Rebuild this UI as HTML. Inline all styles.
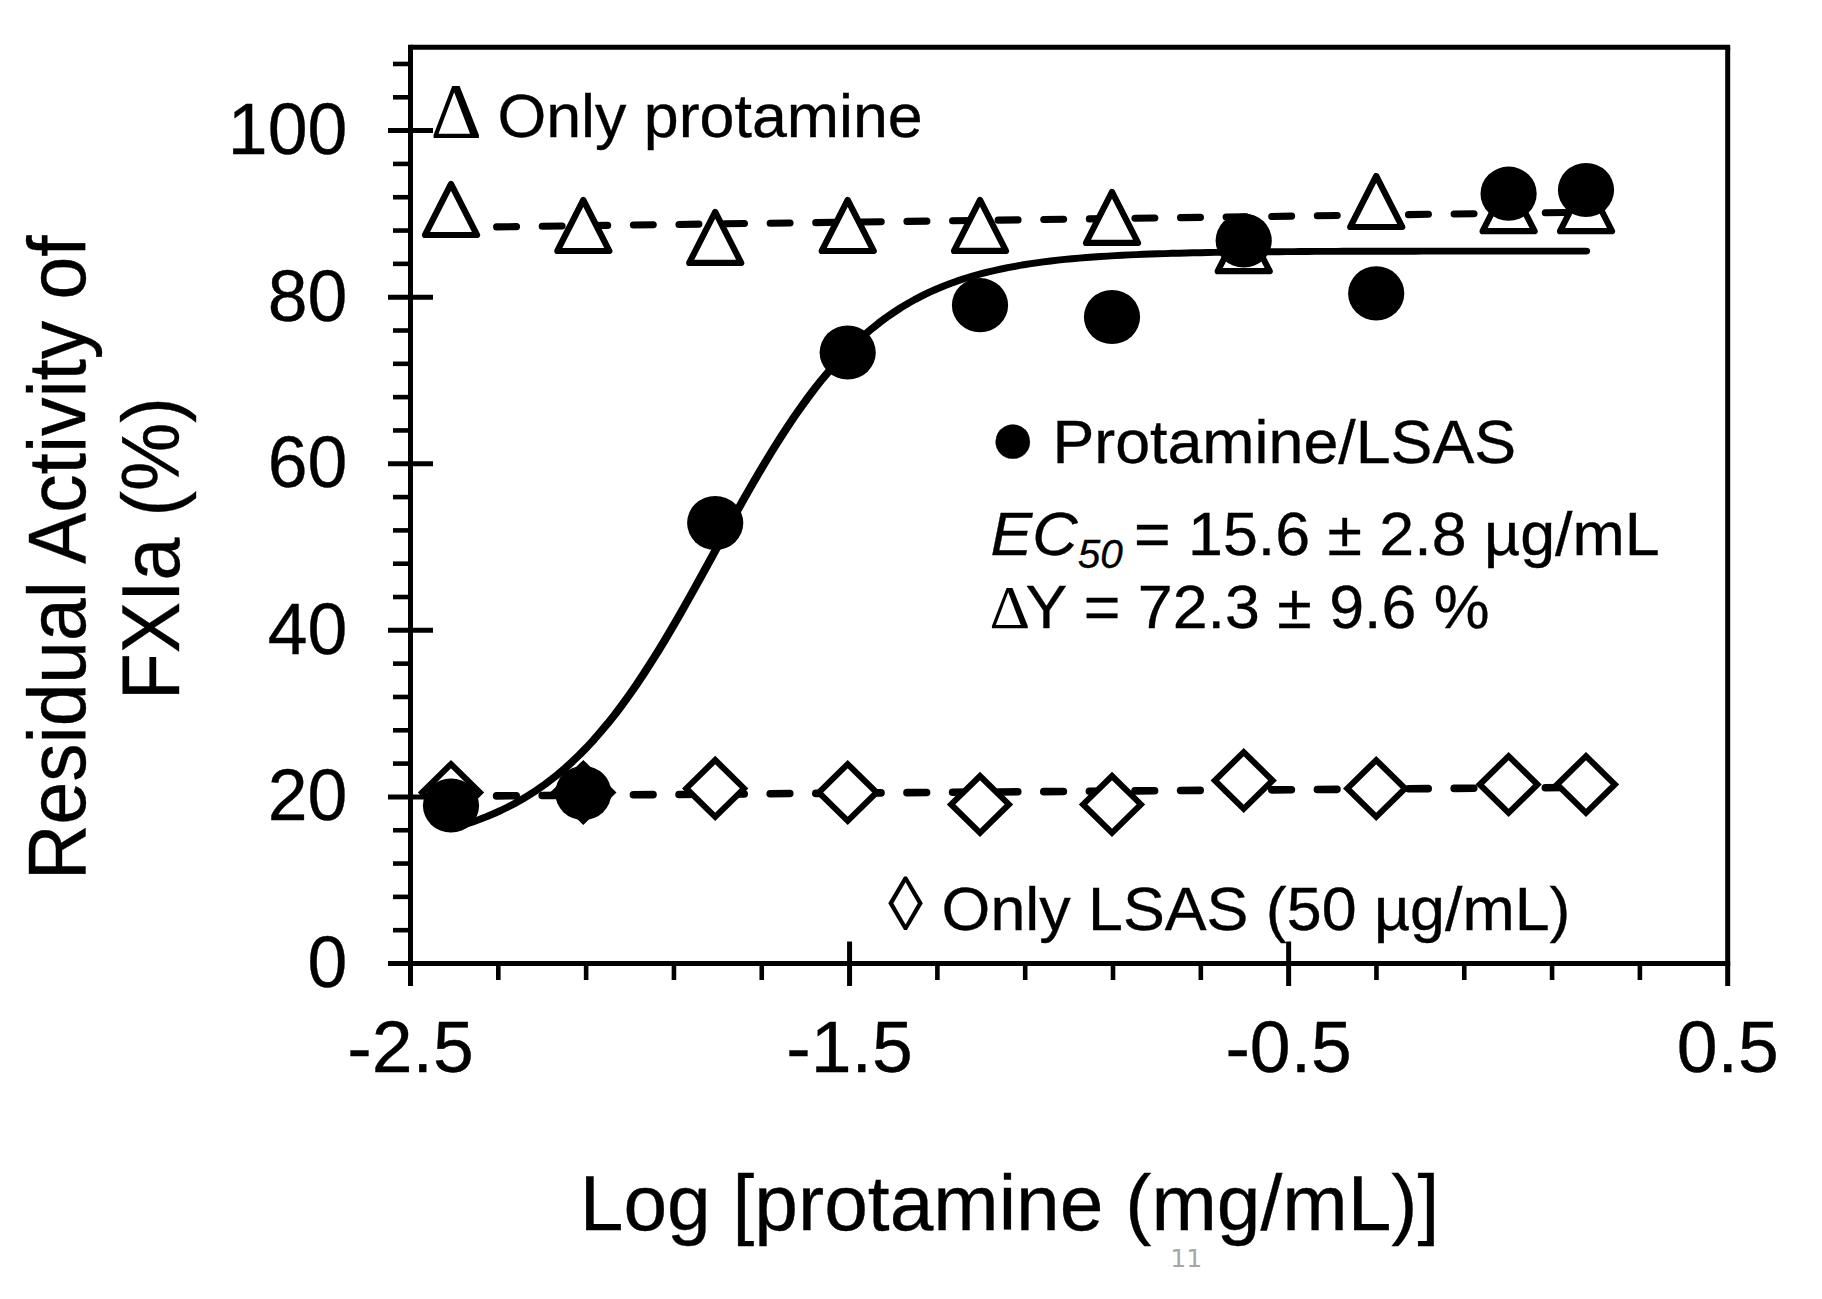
<!DOCTYPE html>
<html lang="en"><head><meta charset="utf-8"><title>Residual Activity of FXIa vs Log [protamine]</title>
<style>html,body{margin:0;padding:0;background:#fff}body{width:1822px;height:1299px;overflow:hidden}svg{display:block}text{font-family:"Liberation Sans",Arial,sans-serif;fill:#000;stroke:#000;stroke-width:.35px}.sym{font-family:"Liberation Serif","DejaVu Serif",serif;stroke-width:0}</style></head><body>
<svg width="1822" height="1299" viewBox="0 0 1822 1299">
<rect width="1822" height="1299" fill="#fff"/>
<g stroke="#000" stroke-width="5" fill="none" stroke-linecap="butt">
<path d="M410.5 44.8 V986"/>
<path d="M388 963.5 H1730.2"/>
<path d="M410.5 47.3 H1730.2"/>
<path d="M1727.7 47.3 V986"/>
<path d="M388 796.92 H433"/>
<path d="M388 630.34 H433"/>
<path d="M388 463.76 H433"/>
<path d="M388 297.18 H433"/>
<path d="M388 130.60 H433"/>
<path d="M849.57 941.5 V986"/>
<path d="M1288.63 941.5 V986"/>
</g>
<g stroke="#000" stroke-width="4.6" fill="none">
<path d="M393 930.18 H410.5"/>
<path d="M393 896.87 H410.5"/>
<path d="M393 863.55 H410.5"/>
<path d="M393 830.24 H410.5"/>
<path d="M393 763.60 H410.5"/>
<path d="M393 730.29 H410.5"/>
<path d="M393 696.97 H410.5"/>
<path d="M393 663.66 H410.5"/>
<path d="M393 597.02 H410.5"/>
<path d="M393 563.71 H410.5"/>
<path d="M393 530.39 H410.5"/>
<path d="M393 497.08 H410.5"/>
<path d="M393 430.44 H410.5"/>
<path d="M393 397.13 H410.5"/>
<path d="M393 363.81 H410.5"/>
<path d="M393 330.50 H410.5"/>
<path d="M393 263.86 H410.5"/>
<path d="M393 230.55 H410.5"/>
<path d="M393 197.23 H410.5"/>
<path d="M393 163.92 H410.5"/>
<path d="M393 97.28 H410.5"/>
<path d="M393 63.97 H410.5"/>
<path d="M498.31 963.5 V980"/>
<path d="M586.13 963.5 V980"/>
<path d="M673.94 963.5 V980"/>
<path d="M761.75 963.5 V980"/>
<path d="M937.38 963.5 V980"/>
<path d="M1025.19 963.5 V980"/>
<path d="M1113.01 963.5 V980"/>
<path d="M1200.82 963.5 V980"/>
<path d="M1376.45 963.5 V980"/>
<path d="M1464.26 963.5 V980"/>
<path d="M1552.07 963.5 V980"/>
<path d="M1639.89 963.5 V980"/>
</g>
<text transform="translate(347.20 987.00) scale(0.98 1)" font-size="73" text-anchor="end">0</text>
<text transform="translate(347.20 820.42) scale(0.98 1)" font-size="73" text-anchor="end">20</text>
<text transform="translate(347.20 653.84) scale(0.98 1)" font-size="73" text-anchor="end">40</text>
<text transform="translate(347.20 487.26) scale(0.98 1)" font-size="73" text-anchor="end">60</text>
<text transform="translate(347.20 320.68) scale(0.98 1)" font-size="73" text-anchor="end">80</text>
<text transform="translate(347.20 154.10) scale(0.98 1)" font-size="73" text-anchor="end">100</text>
<text transform="translate(410.50 1072.30) scale(1.005 1)" font-size="73" text-anchor="middle">-2.5</text>
<text transform="translate(849.57 1072.30) scale(1.005 1)" font-size="73" text-anchor="middle">-1.5</text>
<text transform="translate(1288.63 1072.30) scale(1.005 1)" font-size="73" text-anchor="middle">-0.5</text>
<text transform="translate(1727.70 1072.30) scale(1.005 1)" font-size="73" text-anchor="middle">0.5</text>
<text transform="translate(1009.50 1230.00) scale(1.004 1)" font-size="78.2" text-anchor="middle">Log [protamine (mg/mL)]</text>
<text transform="translate(84.8 557.7) rotate(-90) scale(1 1.055)" font-size="76.8" text-anchor="middle">Residual Activity of</text>
<text transform="translate(178.8 548.6) rotate(-90) scale(1 1.055)" font-size="76.8" text-anchor="middle">FXIa (%)</text>
<g stroke="#000" fill="none" stroke-linecap="round">
<path d="M451 227.5 L1586 212.2" stroke-width="7.1" stroke-dasharray="19.9 25.7"/>
<path d="M451 796.2 L1586 787.4" stroke-width="7.6" stroke-dasharray="19.6 26"/>
</g>
<g stroke="#000" stroke-width="6" fill="#fff" stroke-linejoin="miter">
<path d="M451.0 764.1 L479.9 792.5 L451.0 820.9 L422.1 792.5Z"/>
<path d="M583.3 764.1 L612.2 792.5 L583.3 820.9 L554.4 792.5Z"/>
<path d="M715.2 760.0 L744.1 788.4 L715.2 816.8 L686.3 788.4Z"/>
<path d="M847.7 764.1 L876.6 792.5 L847.7 820.9 L818.8 792.5Z"/>
<path d="M980.0 776.0 L1008.9 804.4 L980.0 832.8 L951.1 804.4Z"/>
<path d="M1112.0 776.0 L1140.9 804.4 L1112.0 832.8 L1083.1 804.4Z"/>
<path d="M1243.7 752.1 L1272.6 780.5 L1243.7 808.9 L1214.8 780.5Z"/>
<path d="M1376.2 760.1 L1405.1 788.5 L1376.2 816.9 L1347.3 788.5Z"/>
<path d="M1508.6 756.1 L1537.5 784.5 L1508.6 812.9 L1479.7 784.5Z"/>
<path d="M1586.0 756.1 L1614.9 784.5 L1586.0 812.9 L1557.1 784.5Z"/>
</g>
<g stroke="#000" stroke-width="6.2" fill="#fff" stroke-linejoin="round">
<path d="M451.0 184.0 L477.0 235.0 L425.0 235.0Z"/>
<path d="M583.3 200.0 L609.3 251.0 L557.3 251.0Z"/>
<path d="M715.2 211.9 L741.2 262.9 L689.2 262.9Z"/>
<path d="M847.7 200.0 L873.7 251.0 L821.7 251.0Z"/>
<path d="M980.0 199.9 L1006.0 250.9 L954.0 250.9Z"/>
<path d="M1112.0 191.9 L1138.0 242.9 L1086.0 242.9Z"/>
<path d="M1243.7 220.2 L1269.7 271.2 L1217.7 271.2Z"/>
<path d="M1376.2 176.0 L1402.2 227.0 L1350.2 227.0Z"/>
<path d="M1508.6 180.2 L1534.6 231.2 L1482.6 231.2Z"/>
<path d="M1586.0 180.2 L1612.0 231.2 L1560.0 231.2Z"/>
</g>
<g transform="scale(1.2 1)"><polyline points="375.83,828.6 381.78,826.6 387.73,824.4 393.68,822.0 399.63,819.4 405.58,816.6 411.53,813.6 417.47,810.4 423.42,806.9 429.37,803.2 435.32,799.1 441.27,794.8 447.22,790.2 453.17,785.2 459.11,779.8 465.06,774.2 471.01,768.1 476.96,761.6 482.91,754.8 488.86,747.5 494.81,739.8 500.75,731.6 506.70,723.1 512.65,714.1 518.60,704.6 524.55,694.8 530.50,684.5 536.45,673.8 542.40,662.7 548.34,651.3 554.29,639.6 560.24,627.5 566.19,615.2 572.14,602.6 578.09,589.9 584.04,577.0 589.98,564.0 595.93,551.0 601.88,537.9 607.83,524.9 613.78,512.1 619.73,499.3 625.68,486.8 631.62,474.5 637.57,462.5 643.52,450.7 649.47,439.3 655.42,428.3 661.37,417.6 667.32,407.4 673.27,397.6 679.21,388.2 685.16,379.2 691.11,370.7 697.06,362.6 703.01,354.9 708.96,347.7 714.91,340.8 720.85,334.4 726.80,328.4 732.75,322.7 738.70,317.4 744.65,312.5 750.60,307.8 756.55,303.5 762.49,299.5 768.44,295.8 774.39,292.3 780.34,289.1 786.29,286.1 792.24,283.4 798.19,280.8 804.14,278.4 810.08,276.3 816.03,274.3 821.98,272.4 827.93,270.7 833.88,269.1 839.83,267.6 845.78,266.3 851.72,265.0 857.67,263.9 863.62,262.9 869.57,261.9 875.52,261.0 881.47,260.2 887.42,259.4 893.36,258.8 899.31,258.1 905.26,257.5 911.21,257.0 917.16,256.5 923.11,256.1 929.06,255.6 935.01,255.3 940.95,254.9 946.90,254.6 952.85,254.3 958.80,254.0 964.75,253.8 970.70,253.6 976.65,253.3 982.59,253.2 988.54,253.0 994.49,252.8 1000.44,252.7 1006.39,252.5 1012.34,252.4 1018.29,252.3 1024.23,252.2 1030.18,252.1 1036.13,252.0 1042.08,251.9 1048.03,251.9 1053.98,251.8 1059.93,251.7 1065.88,251.7 1071.82,251.6 1077.77,251.6 1083.72,251.5 1089.67,251.5 1095.62,251.4 1101.57,251.4 1107.52,251.4 1113.46,251.4 1119.41,251.3 1125.36,251.3 1131.31,251.3 1137.26,251.3 1143.21,251.2 1149.16,251.2 1155.10,251.2 1161.05,251.2 1167.00,251.2 1172.95,251.2 1178.90,251.2 1184.85,251.1 1190.80,251.1 1196.75,251.1 1202.69,251.1 1208.64,251.1 1214.59,251.1 1220.54,251.1 1226.49,251.1 1232.44,251.1 1238.39,251.1 1244.33,251.1 1250.28,251.1 1256.23,251.1 1262.18,251.1 1268.13,251.1 1274.08,251.1 1280.03,251.1 1285.97,251.1 1291.92,251.1 1297.87,251.1 1303.82,251.1 1309.77,251.1 1315.72,251.1 1321.67,251.1" fill="none" stroke="#000" stroke-width="6.9" stroke-linecap="round" stroke-linejoin="round"/></g>
<g fill="#000">
<ellipse cx="451.0" cy="805.5" rx="28.1" ry="27.1"/>
<ellipse cx="583.3" cy="793.0" rx="28.1" ry="27.1"/>
<ellipse cx="715.2" cy="523.0" rx="28.1" ry="27.1"/>
<ellipse cx="847.7" cy="352.5" rx="28.1" ry="27.1"/>
<ellipse cx="980.0" cy="305.2" rx="28.1" ry="27.1"/>
<ellipse cx="1112.0" cy="317.0" rx="28.1" ry="27.1"/>
<ellipse cx="1243.7" cy="240.5" rx="28.1" ry="27.1"/>
<ellipse cx="1376.2" cy="293.4" rx="28.1" ry="27.1"/>
<ellipse cx="1508.6" cy="193.7" rx="28.1" ry="27.1"/>
<ellipse cx="1586.0" cy="190.0" rx="28.1" ry="27.1"/>
</g>
<text transform="translate(430.40 137.10) scale(1.015 1)" font-size="78.8" text-anchor="start" class="sym">Δ</text>
<text transform="translate(497.40 136.50) scale(1.012 1)" font-size="62" text-anchor="start">Only protamine</text>
<text transform="translate(988.70 464.40) scale(1 1)" font-size="79.7" text-anchor="start">●</text>
<text transform="translate(1052.40 463.30) scale(1.012 1)" font-size="62" text-anchor="start">Protamine/LSAS</text>
<text transform="translate(990.50 554.70) scale(1.012 1)" font-size="62" text-anchor="start"><tspan font-style="italic">EC</tspan><tspan font-style="italic" font-size="40" dy="13">50 </tspan><tspan dy="-13">= 15.6 ± 2.8 µg/mL</tspan></text>
<text transform="translate(989.40 627.80) scale(1.02 1)" font-size="62" text-anchor="start" class="sym">Δ</text>
<text transform="translate(1025.60 627.80) scale(1.012 1)" font-size="62" text-anchor="start">Y = 72.3 ± 9.6 %</text>
<text transform="translate(888.10 930.20) scale(0.93 1)" font-size="76.2" text-anchor="start" class="sym">◊</text>
<text transform="translate(941.60 930.00) scale(1.012 1)" font-size="62" text-anchor="start">Only LSAS (50 µg/mL)</text>
<text x="1186.2" y="1267.3" font-size="25.2" text-anchor="middle" style="font-family:'DejaVu Sans','Liberation Sans',sans-serif;fill:#a6a6a6;stroke:none">11</text>
</svg></body></html>
